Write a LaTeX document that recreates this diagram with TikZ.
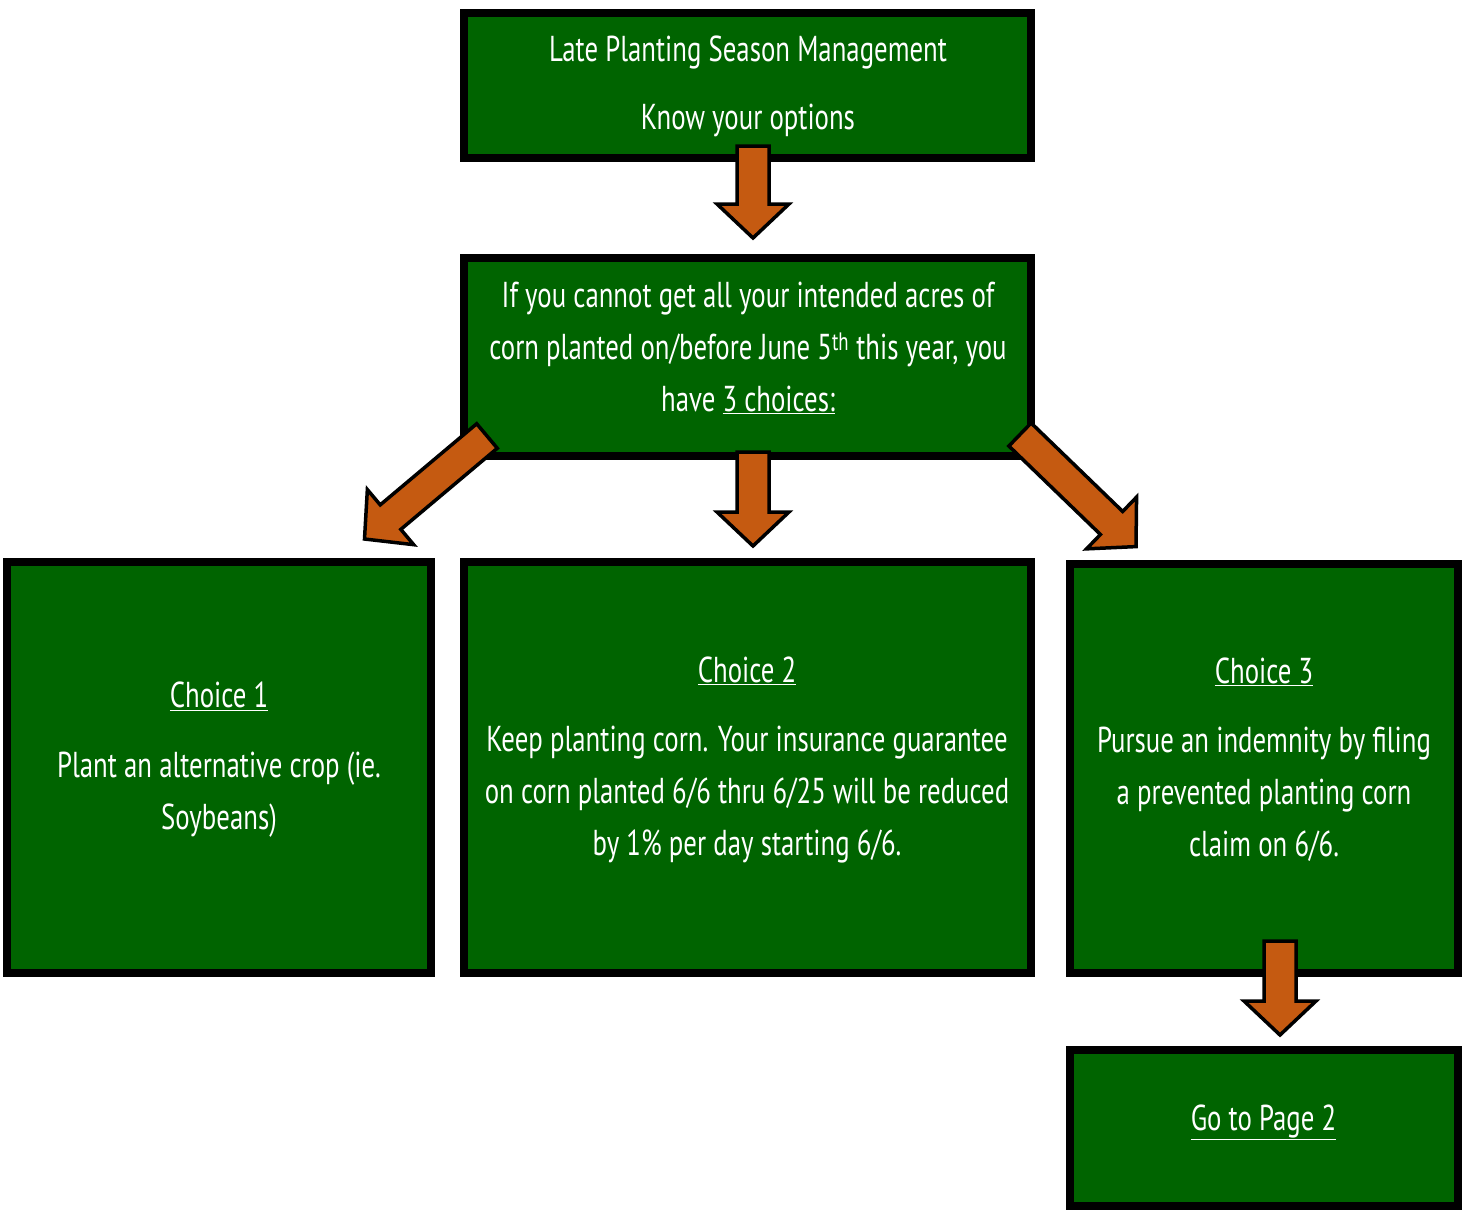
\documentclass[tikz,border=0pt]{standalone}
\usepackage{fontspec}
\setmainfont[FakeStretch=0.745]{PT Sans}
\usetikzlibrary{calc}
\definecolor{boxgreen}{RGB}{0,100,0}
\definecolor{arroworange}{RGB}{197,90,17}
\tikzset{
  greenbox/.style={draw=black, fill=boxgreen, line width=7.5pt, inner sep=0pt, rectangle},
  boxtext/.style={text=white, align=center, inner sep=0pt, font=\fontsize{36}{52}\selectfont},
  barrow/.style={draw=black, fill=arroworange, line width=3.5pt, line join=miter},
}
\newcommand{\blockarrow}[3]{% #1 start, #2 tip, #3 name
  \coordinate (#3-b) at ($(#2)!34pt!(#1)$);
  \draw[barrow] ($(#1)!16pt!90:(#2)$) -- ($(#3-b)!16pt!90:(#2)$) -- ($(#3-b)!36pt!90:(#2)$)
     -- (#2) -- ($(#3-b)!36pt!-90:(#2)$) -- ($(#3-b)!16pt!-90:(#2)$) -- ($(#1)!16pt!-90:(#2)$) -- cycle;
}
\begin{document}
\begin{tikzpicture}[x=1pt,y=-1pt]
\useasboundingbox (0,0) rectangle (1469,1210);
% boxes
\node[greenbox, minimum width=567pt, minimum height=145pt] (boxA) at (747.5,85.5) {};
\node[greenbox, minimum width=567pt, minimum height=198pt] (boxB) at (747.5,357) {};
\node[greenbox, minimum width=424pt, minimum height=411pt] (boxC1) at (219,767.5) {};
\node[greenbox, minimum width=567pt, minimum height=411pt] (boxC2) at (747.5,767.5) {};
\node[greenbox, minimum width=388pt, minimum height=409pt] (boxC3) at (1264,768.5) {};
\node[greenbox, minimum width=388pt, minimum height=156pt] (boxGo) at (1264,1128) {};
% texts
\node[boxtext] (tA) at (748,86) {Late Planting Season Management\\[16pt]Know your options};
\node[boxtext] (tB) at (748,348) {If you cannot get all your intended acres of\\corn planted on/before June 5\textsuperscript{th} this year, you\\have \underline{3 choices:}};
\node[boxtext] (tC1) at (219,760) {\underline{Choice 1}\\[18pt]Plant an alternative crop (ie.\\Soybeans)};
\node[boxtext] (tC2) at (747,760) {\underline{Choice 2}\\[17pt]Keep planting corn. Your insurance guarantee\\on corn planted 6/6 thru 6/25 will be reduced\\by 1\% per day starting 6/6.};
\node[boxtext] (tC3) at (1264,760) {\underline{Choice 3}\\[17pt]Pursue an indemnity by filing\\a prevented planting corn\\claim on 6/6.};
\node[boxtext] (tGo) at (1263.5,1122) {\underline{Go to Page 2}};
% arrow coordinates
\coordinate (a1s) at (753,146);
\coordinate (a1t) at (753,238);
\coordinate (a2s) at (753,452);
\coordinate (a2t) at (753,546);
\coordinate (a3s) at (487,436);
\coordinate (a3t) at (364.5,539);
\coordinate (a4s) at (1020,434.5);
\coordinate (a4t) at (1136,546.6);
\coordinate (a5s) at (1280,941);
\coordinate (a5t) at (1280,1035);
\blockarrow{a1s}{a1t}{arA}
\blockarrow{a2s}{a2t}{arB}
\blockarrow{a3s}{a3t}{arC}
\blockarrow{a4s}{a4t}{arD}
\blockarrow{a5s}{a5t}{arE}
\end{tikzpicture}
\end{document}
